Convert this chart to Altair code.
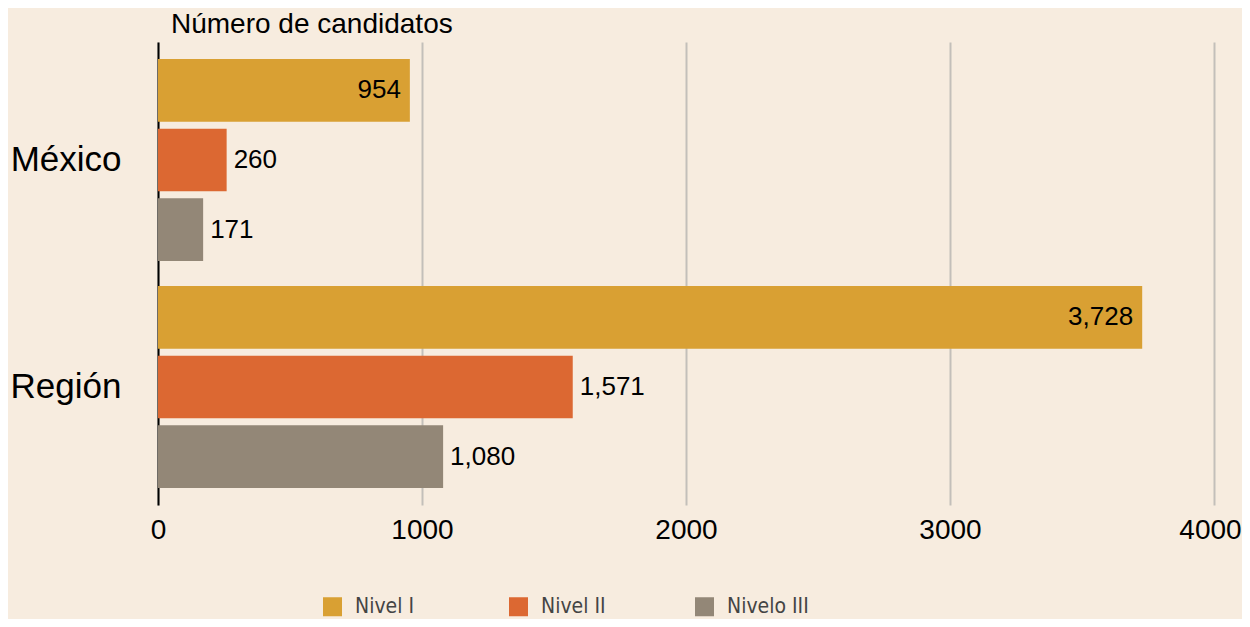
import altair as alt
import pandas as pd

regions = ["México", "México", "México", "Región", "Región", "Región"]
levels = ["Nivel I", "Nivel II", "Nivelo III", "Nivel I", "Nivel II", "Nivelo III"]
values = [954, 260, 171, 3728, 1571, 1080]
level_order = ["Nivel I", "Nivel II", "Nivelo III"]
level_colors = ["#D9A033", "#DC6832", "#938777"]
x_ticks = [0, 1000, 2000, 3000, 4000]

df = pd.DataFrame({"region": regions, "nivel": levels, "valor": values})
df["inside"] = df["nivel"] == "Nivel I"

FONT = "Liberation Sans"
NARROW = "Liberation Sans Narrow, DejaVu Sans Condensed, Liberation Sans"

y_enc = alt.Y("region:N", sort=["México", "Región"],
              scale=alt.Scale(paddingInner=0.11, paddingOuter=0.075),
              axis=alt.Axis(title=None, domain=True, domainColor="#000000", domainWidth=2,
                            ticks=False, labelFontSize=35, labelColor="#000000",
                            labelPadding=37, grid=False, labelFont=FONT))
yoff_enc = alt.YOffset("nivel:N", sort=level_order,
                       scale=alt.Scale(paddingInner=0.1, paddingOuter=0))
x_enc = alt.X("valor:Q", scale=alt.Scale(domain=[0, 4000], nice=False),
              axis=alt.Axis(title=None, values=x_ticks, grid=True, gridColor="#c3bfba",
                            gridWidth=2, domain=False, ticks=False, labelFontSize=28,
                            labelColor="#000000", labelPadding=11, labelFlush=False,
                            labelOffset=alt.condition("datum.value == 4000", alt.value(-4), alt.value(0)),
                            labelFont=FONT, format="d"))

bars = alt.Chart(df).mark_bar().encode(
    x=x_enc,
    y=y_enc,
    yOffset=yoff_enc,
    color=alt.Color("nivel:N", sort=level_order,
                    scale=alt.Scale(domain=level_order, range=level_colors),
                    legend=alt.Legend(title=None, orient="none", legendX=164, legendY=554,
                                      direction="horizontal", columns=3, gridAlign="all",
                                      columnPadding=71, symbolType="square", symbolSize=361,
                                      symbolStrokeWidth=0, symbolOpacity=1,
                                      labelFontSize=21, labelColor="#444444", labelFont=NARROW,
                                      labelOffset=12, padding=0)),
)

inside = alt.Chart(df).transform_filter("datum.inside").mark_text(
    align="right", baseline="middle", dx=-9, fontSize=26, font=FONT, color="#000000"
).encode(x="valor:Q", y=alt.Y("region:N", sort=["México", "Región"]),
         yOffset=alt.YOffset("nivel:N", sort=level_order),
         text=alt.Text("valor:Q", format=",.0f"))

outside = alt.Chart(df).transform_filter("!datum.inside").mark_text(
    align="left", baseline="middle", dx=7, fontSize=26, font=FONT, color="#000000"
).encode(x="valor:Q", y=alt.Y("region:N", sort=["México", "Región"]),
         yOffset=alt.YOffset("nivel:N", sort=level_order),
         text=alt.Text("valor:Q", format=",.0f"))

chart = alt.layer(bars, inside, outside).properties(
    width=1056, height=463,
    title=alt.TitleParams("Número de candidatos", anchor="start", frame="group", fontSize=28,
                          fontWeight="normal", font=FONT, color="#000000", dx=13, offset=3),
    autosize=alt.AutoSizeParams(type="none"),
    padding={"left": 150, "top": 34, "right": 28, "bottom": 114},
    background="#F7ECDF",
).configure_view(stroke=None)

chart.save("out.html", embed_options={"renderer": "svg", "actions": False})
